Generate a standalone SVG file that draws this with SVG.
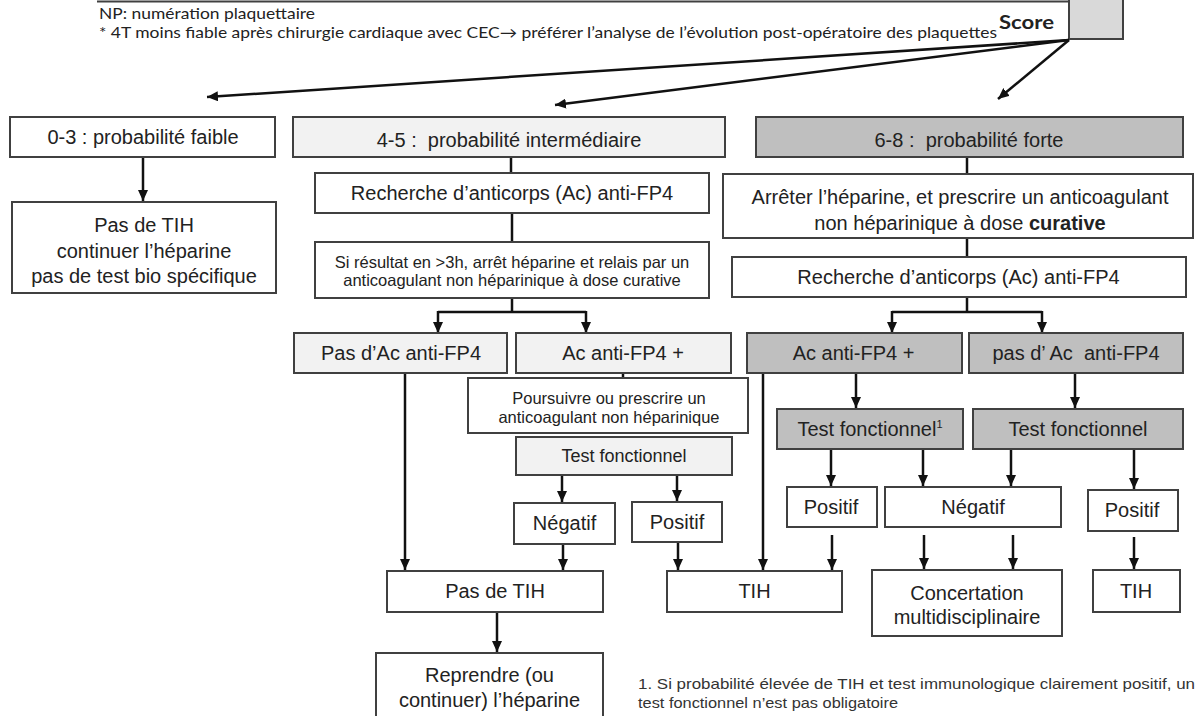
<svg xmlns="http://www.w3.org/2000/svg" width="1196" height="716" viewBox="0 0 1196 716">
<defs>
<marker id="ah" markerUnits="userSpaceOnUse" markerWidth="11" markerHeight="10" refX="11" refY="5" orient="auto">
<path d="M0,0 L11,5 L0,10 z" fill="#111"/>
</marker>
<style>
.box{stroke:#404040;stroke-width:2;fill:#fff}
.lg{fill:#f2f2f2}
.mg{fill:#bfbfbf}
.t{font-family:"Liberation Sans",Arial,sans-serif;font-size:20px;fill:#222;text-anchor:middle}
.s{font-family:"Liberation Sans",Arial,sans-serif;font-size:16.5px;fill:#222;text-anchor:middle}
.n{font-family:Lato,"Open Sans",sans-serif;font-size:15px;fill:#222}
.c{stroke:#111;stroke-width:2.5;fill:none}
.a{stroke:#111;stroke-width:2.5;fill:none;marker-end:url(#ah)}
</style>
</defs>
<rect width="1196" height="716" fill="#fff"/>

<g id="header">
<line x1="97" y1="1.5" x2="1123" y2="1.5" stroke="#404040" stroke-width="2"/>
<text class="n" x="99" y="19" textLength="216" lengthAdjust="spacingAndGlyphs">NP: numération plaquettaire</text>
<text class="n" x="99" y="37.5" textLength="898" lengthAdjust="spacingAndGlyphs">* 4T moins fiable après chirurgie cardiaque avec CEC→ préférer l’analyse de l’évolution post-opératoire des plaquettes</text>
</g>
<g id="score">
<rect x="1069" y="-2" width="54" height="41" fill="#d9d9d9" stroke="#404040" stroke-width="2"/>
<text x="999" y="29" font-family="Lato,'Open Sans',sans-serif" font-weight="bold" font-size="18" fill="#222" textLength="55" lengthAdjust="spacingAndGlyphs">Score</text>
</g>

<g id="connectors">
<line class="a" x1="1069" y1="40" x2="207" y2="97"/>
<line class="a" x1="1069" y1="40" x2="555" y2="105"/>
<line class="a" x1="1069" y1="40" x2="998" y2="99"/>
<line class="a" x1="143" y1="157" x2="143" y2="201"/>
<line class="c" x1="511" y1="157" x2="511" y2="173"/>
<line class="c" x1="512" y1="213" x2="512" y2="242"/>
<path class="c" d="M512,298 V312 M438,312 H586"/>
<line class="a" x1="438" y1="311" x2="438" y2="333"/>
<line class="a" x1="586" y1="311" x2="586" y2="333"/>
<line class="c" x1="623" y1="373" x2="623" y2="378"/>
<line class="a" x1="562" y1="475" x2="562" y2="502"/>
<line class="a" x1="677" y1="475" x2="677" y2="501"/>
<line class="a" x1="405" y1="373" x2="405" y2="570"/>
<line class="a" x1="563" y1="544" x2="563" y2="570"/>
<line class="a" x1="678" y1="542" x2="678" y2="570"/>
<line class="a" x1="497" y1="612" x2="497" y2="652"/>
<line class="c" x1="967" y1="157" x2="967" y2="174"/>
<line class="c" x1="967" y1="238" x2="967" y2="257"/>
<path class="c" d="M967,297 V312 M892,312 H1042"/>
<line class="a" x1="892" y1="311" x2="892" y2="333"/>
<line class="a" x1="1042" y1="311" x2="1042" y2="333"/>
<line class="a" x1="763" y1="373" x2="763" y2="570"/>
<line class="a" x1="856" y1="373" x2="856" y2="408"/>
<line class="a" x1="1075" y1="373" x2="1075" y2="408"/>
<line class="a" x1="831" y1="449" x2="831" y2="486"/>
<line class="a" x1="923" y1="449" x2="923" y2="486"/>
<line class="a" x1="1011" y1="449" x2="1011" y2="486"/>
<line class="a" x1="1134" y1="449" x2="1134" y2="489"/>
<line class="a" x1="832" y1="535" x2="832" y2="570"/>
<line class="a" x1="924" y1="535" x2="924" y2="569"/>
<line class="a" x1="1013" y1="535" x2="1013" y2="569"/>
<line class="a" x1="1134" y1="537" x2="1134" y2="569"/>
</g>

<g id="n03"><rect class="box" x="10" y="117" width="265" height="40"/><text class="t" x="143" y="144">0-3 : probabilité faible</text></g>
<g id="pasTIH1"><rect class="box" x="12" y="202" width="264" height="91"/>
<text class="t" x="144" y="232">Pas de TIH</text><text class="t" x="144" y="258">continuer l’héparine</text><text class="t" x="144" y="283">pas de test bio spécifique</text></g>

<g id="n45"><rect class="box lg" x="293" y="117" width="432" height="40"/><text class="t" x="509" y="147" style="white-space:pre">4-5 :  probabilité intermédiaire</text></g>
<g id="rech2"><rect class="box" x="315" y="173" width="394" height="40"/><text class="t" x="512" y="200">Recherche d’anticorps (Ac) anti-FP4</text></g>
<g id="si"><rect class="box" x="315" y="242" width="394" height="56"/>
<text class="s" x="512" y="268">Si résultat en &gt;3h, arrêt héparine et relais par un</text>
<text class="s" x="512" y="286">anticoagulant non héparinique à dose curative</text></g>
<g id="pasAc2"><rect class="box lg" x="294" y="333" width="213" height="40"/><text class="t" x="401" y="360">Pas d’Ac anti-FP4</text></g>
<g id="acplus2"><rect class="box lg" x="516" y="333" width="215" height="40"/><text class="t" x="623" y="360">Ac anti-FP4 +</text></g>
<g id="poursuivre"><rect class="box" x="468" y="378" width="280" height="55"/>
<text class="s" x="609" y="404">Poursuivre ou prescrire un</text>
<text class="s" x="609" y="423">anticoagulant non héparinique</text></g>
<g id="test2"><rect class="box lg" x="516" y="437" width="216" height="38"/><text class="t" x="624" y="462" style="font-size:18px">Test fonctionnel</text></g>
<g id="neg2"><rect class="box" x="514" y="503" width="101" height="41"/><text class="t" x="564.5" y="530">Négatif</text></g>
<g id="pos2"><rect class="box" x="632" y="502" width="90" height="40"/><text class="t" x="677" y="529">Positif</text></g>
<g id="pasTIH2"><rect class="box" x="387" y="571" width="216" height="41"/><text class="t" x="495" y="598">Pas de TIH</text></g>
<g id="reprendre"><rect class="box" x="376" y="653" width="227" height="70"/>
<text class="t" x="489.5" y="682">Reprendre (ou</text><text class="t" x="489.5" y="707">continuer) l’héparine</text></g>
<g id="tih2"><rect class="box" x="667" y="571" width="175" height="41"/><text class="t" x="754.5" y="598">TIH</text></g>

<g id="n68"><rect class="box mg" x="756" y="117" width="427" height="40"/><text class="t" x="969" y="147" style="white-space:pre">6-8 :  probabilité forte</text></g>
<g id="arreter"><rect class="box" x="723" y="174" width="470" height="64"/>
<text class="t" x="960" y="204">Arrêter l’héparine, et prescrire un anticoagulant</text>
<text class="t" x="960" y="230">non héparinique à dose <tspan font-weight="bold">curative</tspan></text></g>
<g id="rech3"><rect class="box" x="732" y="257" width="454" height="40"/><text class="t" x="958.5" y="284">Recherche d’anticorps (Ac) anti-FP4</text></g>
<g id="acplus3"><rect class="box mg" x="747" y="333" width="215" height="40"/><text class="t" x="853.5" y="360">Ac anti-FP4 +</text></g>
<g id="pasAc3"><rect class="box mg" x="969" y="333" width="214" height="40"/><text class="t" x="1076" y="360" style="white-space:pre">pas d’ Ac  anti-FP4</text></g>
<g id="test3a"><rect class="box mg" x="777" y="409" width="186" height="40"/><text class="t" x="870" y="436">Test fonctionnel<tspan font-size="11" dy="-8">1</tspan></text></g>
<g id="test3b"><rect class="box mg" x="973" y="409" width="210" height="40"/><text class="t" x="1078" y="436">Test fonctionnel</text></g>
<g id="pos3a"><rect class="box" x="787" y="487" width="90" height="40"/><text class="t" x="831" y="514">Positif</text></g>
<g id="neg3"><rect class="box" x="885" y="487" width="176" height="40"/><text class="t" x="973" y="514">Négatif</text></g>
<g id="pos3b"><rect class="box" x="1088" y="490" width="90" height="41"/><text class="t" x="1132" y="517">Positif</text></g>
<g id="concert"><rect class="box" x="872" y="570" width="190" height="66"/>
<text class="t" x="967" y="600">Concertation</text><text class="t" x="967" y="624">multidisciplinaire</text></g>
<g id="tih3"><rect class="box" x="1093" y="570" width="87" height="42"/><text class="t" x="1136" y="598">TIH</text></g>

<g id="footnote">
<text x="638" y="689" font-family="'Liberation Sans',Arial,sans-serif" font-size="15" fill="#333" textLength="557" lengthAdjust="spacingAndGlyphs">1. Si probabilité élevée de TIH et test immunologique clairement positif, un</text>
<text x="638" y="708" font-family="'Liberation Sans',Arial,sans-serif" font-size="15" fill="#333" textLength="260" lengthAdjust="spacingAndGlyphs">test fonctionnel n’est pas obligatoire</text>
</g>
</svg>
